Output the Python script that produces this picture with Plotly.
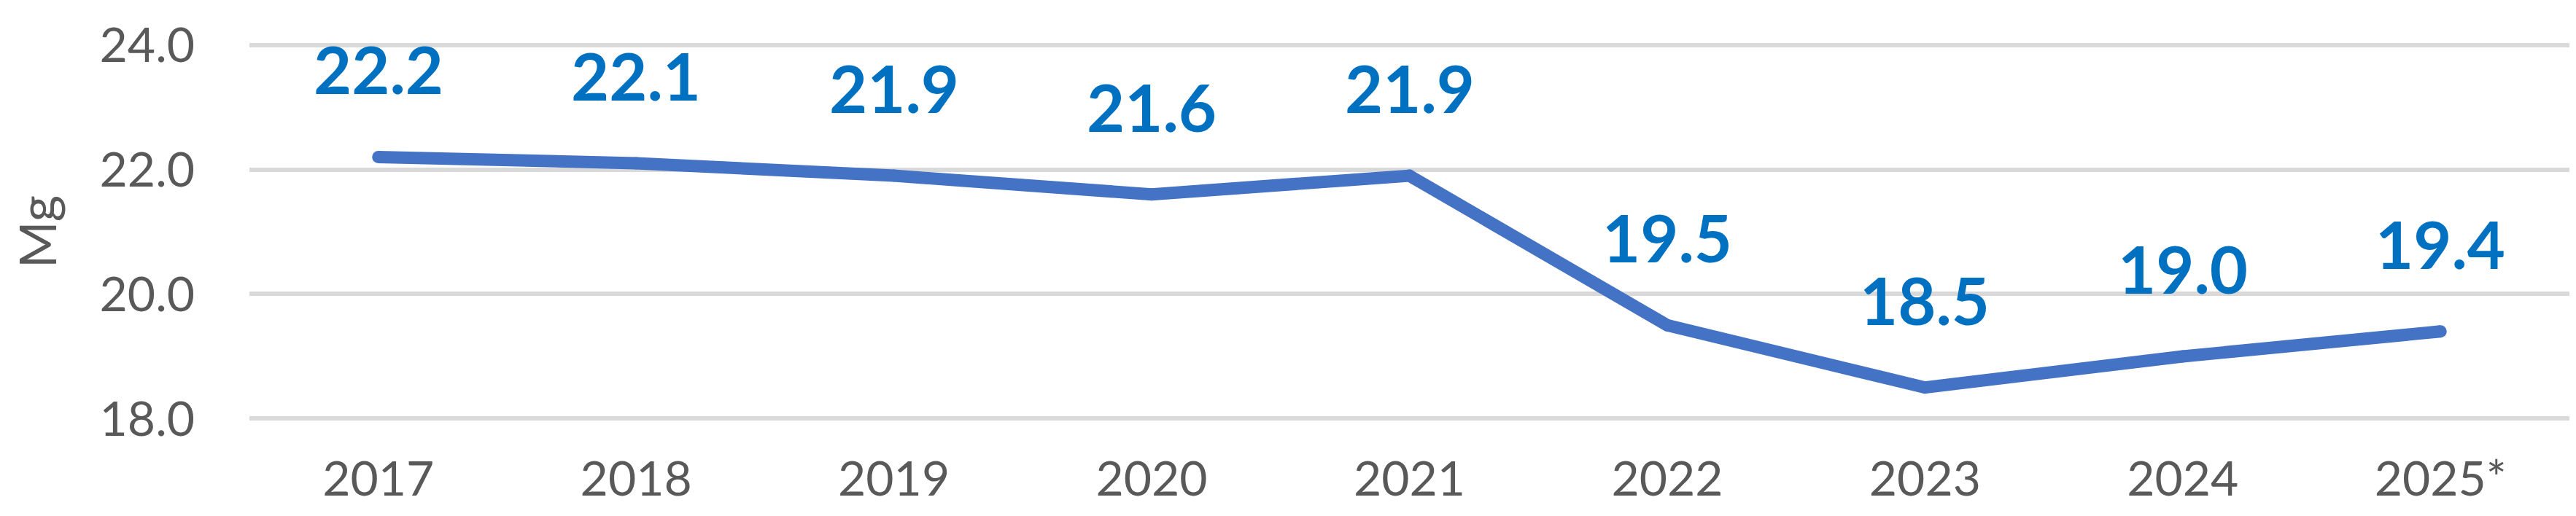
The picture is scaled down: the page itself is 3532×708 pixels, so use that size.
import plotly.graph_objects as go

years = ["2017", "2018", "2019", "2020", "2021", "2022", "2023", "2024", "2025*"]
values = [22.2, 22.1, 21.9, 21.6, 21.9, 19.5, 18.5, 19.0, 19.4]
y_ticks = [18.0, 20.0, 22.0, 24.0]
y_title = "Mg"

W, H = 3532, 708
FONT = "Lato, 'Open Sans', sans-serif"
LINE_W = 17

fig = go.Figure()
fig.add_trace(go.Scatter(
    x=years, y=values, mode="lines+markers",
    line=dict(color="#4472C4", width=LINE_W),
    marker=dict(color="#4472C4", size=LINE_W, line=dict(width=0)),  # round joins/caps
    hoverinfo="skip", showlegend=False,
))

# category axis: annotations placed by category index
for i, v in enumerate(values):
    fig.add_annotation(
        x=i, y=v, text=f"<b>{v:.1f}</b>", showarrow=False,
        yshift=121, yanchor="middle", xanchor="center",
        font=dict(family=FONT, size=90, color="#0070C0"),
    )

fig.update_layout(
    width=W, height=H,
    margin=dict(l=334, r=17, t=41, b=133),
    paper_bgcolor="white", plot_bgcolor="white",
    font=dict(family=FONT, color="#595959"),
    showlegend=False,
)
fig.update_xaxes(
    type="category", categoryorder="array", categoryarray=years,
    range=[-0.5, len(years) - 0.5],
    showgrid=False, zeroline=False, showline=False,
    tickfont=dict(family=FONT, size=66, color="#595959"),
    ticks="", ticklabelstandoff=30,
)
fig.update_yaxes(
    range=[17.9, 24.1], tickvals=y_ticks,
    ticktext=[f"{t:.1f}" for t in y_ticks],
    showgrid=True, gridcolor="#D9D9D9", gridwidth=6,
    zeroline=False, showline=False, ticks="",
    tickfont=dict(family=FONT, size=66, color="#595959"),
    ticklabelstandoff=74,
    title=dict(text=y_title, font=dict(family=FONT, size=70, color="#595959"), standoff=54),
)

fig.write_html("out.html")
